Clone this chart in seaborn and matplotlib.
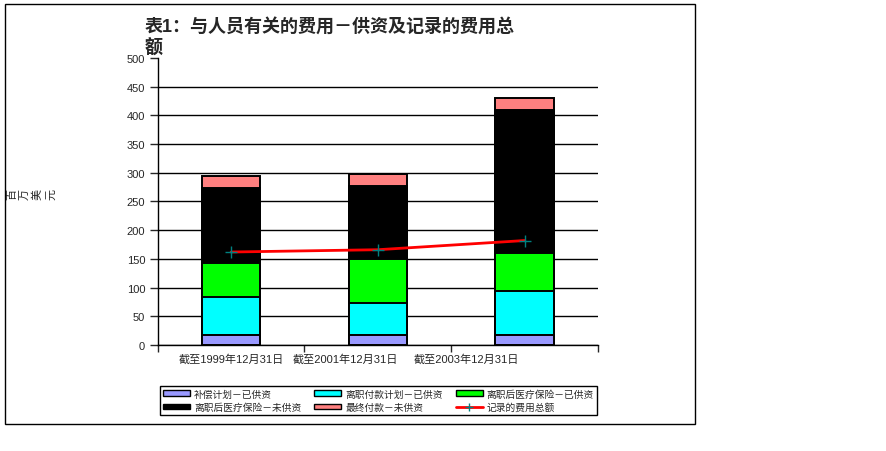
import numpy as np
import pandas as pd
import matplotlib
matplotlib.use("Agg")
import matplotlib.pyplot as plt
import matplotlib.transforms as mtransforms
import seaborn as sns
from matplotlib.patches import Patch, Rectangle
from matplotlib.lines import Line2D
from matplotlib.ticker import FixedLocator

# ---------------- data ----------------
categories = ["截至1999年12月31日", "截至2001年12月31日", "截至2003年12月31日"]
series_names = ["补偿计划－已供资", "离职付款计划－已供资", "离职后医疗保险－已供资",
                "离职后医疗保险－未供资", "最终付款－未供资"]
comp_plan_funded = [17, 17, 17]
separation_funded = [66, 57, 77]
ashi_funded = [60, 76, 67]
ashi_unfunded = [130, 127, 248]
final_payment_unfunded = [21, 21, 22]
line_name = "记录的费用总额"
total_recorded = [162, 166, 182]
y_ticks = [0, 50, 100, 150, 200, 250, 300, 350, 400, 450, 500]
title = "表1：与人员有关的费用－供资及记录的费用总\n额"
y_label = "百万美元"

colors = ["#9999FF", "#00FFFF", "#00FF00", "#000000", "#FF8080"]

sns.set_style("white")
plt.rcParams["font.family"] = ["Liberation Sans", "Noto Sans CJK SC", "DejaVu Sans"]

fig = plt.figure(figsize=(8.86, 4.52), dpi=100)
ax = fig.add_axes([0.178, 0.2345, 0.497, 0.635])

# outer chart border
fig.add_artist(Rectangle((0.0056, 0.06), 0.7785, 0.929, transform=fig.transFigure,
                         fill=False, edgecolor="black", linewidth=1))

# stacked bars: draw cumulative heights from the top series down
stack = np.array([comp_plan_funded, separation_funded, ashi_funded,
                  ashi_unfunded, final_payment_unfunded])
cums = np.cumsum(stack, axis=0)
for i in reversed(range(len(series_names))):
    df = pd.DataFrame({"cat": categories, "val": cums[i]})
    sns.barplot(data=df, x="cat", y="val", order=categories, color=colors[i],
                saturation=1, width=0.4, edgecolor="black", linewidth=1.4,
                errorbar=None, ax=ax, zorder=2)

# recorded total line
sns.lineplot(x=categories, y=total_recorded, sort=False, color="#FF0000", linewidth=2,
             marker="+", markersize=8, markeredgecolor="#008080", markeredgewidth=1,
             ax=ax, zorder=3)

ax.set_xlim(-0.5, 2.5)
ax.set_ylim(0, 500)
ax.set_yticks(y_ticks)
ax.set_xlabel("")
ax.set_ylabel("")
ax.yaxis.grid(True, color="black", linewidth=1)
ax.set_axisbelow(True)
ax.get_ygridlines()[-1].set_visible(False)
for s in ["top", "right"]:
    ax.spines[s].set_visible(False)
for s in ["left", "bottom"]:
    ax.spines[s].set_color("black")
    ax.spines[s].set_linewidth(1)
ax.tick_params(axis="y", labelsize=8, length=6, width=1, direction="out", pad=3, left=True)
ax.tick_params(axis="x", which="major", labelsize=8, length=0, pad=6)
ax.xaxis.set_minor_locator(FixedLocator([-0.5, 0.5, 1.5, 2.5]))
ax.tick_params(axis="x", which="minor", length=5, width=1, direction="out", bottom=True)
if ax.get_legend() is not None:
    ax.get_legend().remove()

# the reference squeezes the category labels towards the left
for lab, dx in zip(ax.get_xticklabels(), [0, -33, -58]):
    lab.set_transform(lab.get_transform() +
                      mtransforms.ScaledTranslation(dx / 100, 0, fig.dpi_scale_trans))

# title
fig.text(145 / 886, 1 - 18 / 452, title, fontsize=13, fontweight="bold",
         ha="left", va="top", linespacing=1.25)

# y label: glyphs rotated individually, laid out left to right
for k, ch in enumerate(y_label):
    fig.text((12 + k * 13) / 886, 1 - 194 / 452, ch, fontsize=8, rotation=90,
             ha="center", va="center", rotation_mode="anchor")

# legend
handles = [Patch(facecolor=c, edgecolor="black", linewidth=1) for c in colors]
handles.append(Line2D([0], [0], color="#FF0000", linewidth=2, marker="+",
                      markersize=6, markeredgecolor="#008080"))
labels = series_names + [line_name]
order = [0, 3, 1, 4, 2, 5]
leg = fig.legend([handles[i] for i in order], [labels[i] for i in order], ncol=3,
                 loc="lower left", bbox_to_anchor=(0.1806, 0.0796, 0.493, 0.0686),
                 bbox_transform=fig.transFigure, mode="expand", fancybox=False,
                 edgecolor="black", framealpha=1, fontsize=7, handlelength=2.8,
                 handleheight=0.5, borderpad=0.3, labelspacing=0.35, columnspacing=1.0,
                 handletextpad=0.4, borderaxespad=0)
leg.get_frame().set_linewidth(1)

fig.savefig("out.png", dpi=100)
